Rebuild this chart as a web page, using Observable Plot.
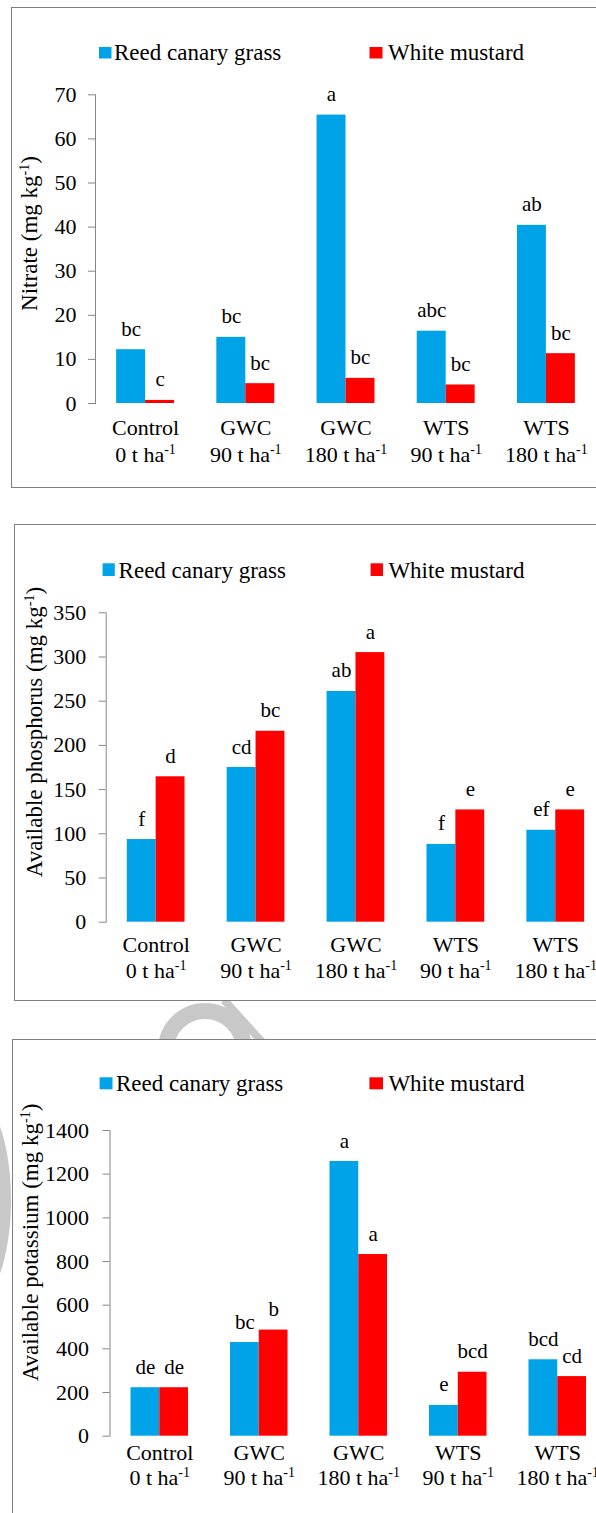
<!DOCTYPE html>
<html>
<head>
<meta charset="utf-8">
<script src="https://cdn.jsdelivr.net/npm/d3@7"></script>
<script src="https://cdn.jsdelivr.net/npm/@observablehq/plot@0.6"></script>
<style>
html,body{margin:0;padding:0;background:#fff;}
body{width:596px;height:1513px;position:relative;overflow:hidden;}
#wm{position:absolute;left:0;top:0;z-index:0;}
.box{position:absolute;border:1px solid #7f7f7f;box-sizing:border-box;background:#fff;z-index:1;}
.panel{position:absolute;left:0;width:610px;z-index:2;}
.panel svg{display:block;overflow:visible;max-width:none;}
</style>
</head>
<body>
<svg id="wm" width="596" height="1513">
  <g fill="none" stroke="#c8c8c8">
    <circle cx="205" cy="1050" r="39" stroke-width="16"></circle>
    <line x1="224" y1="1000" x2="262" y2="1042" stroke-width="8"></line>
  </g>
  <ellipse cx="-30" cy="1200" rx="41" ry="108" fill="#c8c8c8"></ellipse>
</svg>
<div class="box" style="left:11px;top:7px;width:640px;height:481px"></div>
<div class="box" style="left:14px;top:524px;width:640px;height:477px"></div>
<div class="box" style="left:12px;top:1039px;width:640px;height:520px"></div>
<div class="panel" id="p1" style="top:0px"></div>
<div class="panel" id="p2" style="top:500px"></div>
<div class="panel" id="p3" style="top:1010px"></div>
<script>
// ---------- data ----------
const treatmentNames = ["Control", "GWC", "GWC", "WTS", "WTS"];
const doses = ["0", "90", "180", "90", "180"];
const series = ["Reed canary grass", "White mustard"];
const seriesColors = ["#00A2E8", "#FF0000"];

const nitrateRCG = [12.2, 15.0, 65.4, 16.4, 40.4];
const nitrateWM = [0.7, 4.5, 5.7, 4.2, 11.3];
const nitrateLettersRCG = ["bc", "bc", "a", "abc", "ab"];
const nitrateLettersWM = ["c", "bc", "bc", "bc", "bc"];
const nitrateTicks = [0, 10, 20, 30, 40, 50, 60, 70];

const phosphorusRCG = [93.5, 175, 261, 88, 104];
const phosphorusWM = [164.5, 216, 305, 127, 127];
const phosphorusLettersRCG = ["f", "cd", "ab", "f", "ef"];
const phosphorusLettersWM = ["d", "bc", "a", "e", "e"];
const phosphorusTicks = [0, 50, 100, 150, 200, 250, 300, 350];

const potassiumRCG = [222, 429, 1258, 141, 350];
const potassiumWM = [222, 486, 832, 293, 273];
const potassiumLettersRCG = ["de", "bc", "a", "e", "bcd"];
const potassiumLettersWM = ["de", "b", "a", "bcd", "cd"];
const potassiumTicks = [0, 200, 400, 600, 800, 1000, 1200, 1400];

// ---------- helpers ----------
const FONT = '"Liberation Serif", "Times New Roman", serif';
const NS = "http://www.w3.org/2000/svg";
const treatmentKeys = treatmentNames.map((n, i) => n + " " + doses[i]);
const treatRows = treatmentKeys.map((k, i) => ({treat: k, name: treatmentNames[i], dose: doses[i] + " t ha"}));

function addSup(parent, txt, size, dy) {
  const s = document.createElementNS(NS, "tspan");
  s.setAttribute("font-size", size);
  s.setAttribute("dy", dy);
  s.textContent = txt;
  parent.appendChild(s);
  return s;
}

function makePanel(cfg) {
  const rows = [];
  treatmentKeys.forEach((t, i) => {
    rows.push({treat: t, series: series[0], value: cfg.a[i], letter: cfg.la[i]});
    rows.push({treat: t, series: series[1], value: cfg.b[i], letter: cfg.lb[i]});
  });
  const W = 610;
  const svg = Plot.plot({
    width: W,
    height: cfg.height,
    marginLeft: cfg.left,
    marginRight: W - cfg.right,
    marginTop: cfg.top,
    marginBottom: cfg.bottom,
    style: {fontFamily: FONT, fontSize: "22px", background: "transparent", overflow: "visible", color: "black", maxWidth: "none"},
    fx: {domain: treatmentKeys, paddingInner: 0, paddingOuter: 0, round: false, axis: null, label: null},
    x: {domain: series, paddingInner: 0, paddingOuter: 0.73, round: false, axis: null, label: null},
    y: {domain: [0, cfg.ticks[cfg.ticks.length - 1]], axis: null, label: null},
    color: {domain: series, range: seriesColors},
    marks: [
      Plot.barY(rows, {fx: "treat", x: "series", y: "value", fill: "series"}),
      Plot.text(rows, {fx: "treat", x: "series", y: "value", text: "letter", lineAnchor: "bottom", dy: -14,
        fontSize: 21, fontFamily: FONT, fill: "black"}),
      Plot.axisY({ticks: cfg.ticks, tickSize: 7, tickPadding: cfg.ypad, tickFormat: d => String(d),
        stroke: "#868686", fill: "black", fontSize: 22, fontFamily: FONT, label: null}),
      Plot.frame({anchor: "left", facetAnchor: "left", stroke: "#868686"}),
      Plot.text(treatRows, {fx: "treat", text: "name", frameAnchor: "bottom", lineAnchor: "bottom", dy: cfg.x1,
        fontSize: 22, fontFamily: FONT, fill: "black"}),
      Plot.text(treatRows, {fx: "treat", text: "dose", frameAnchor: "bottom", lineAnchor: "bottom", dy: cfg.x2,
        fontSize: 22, fontFamily: FONT, fill: "black"})
    ]
  });
  // superscripts in tick labels
  svg.querySelectorAll("text, tspan").forEach(el => {
    if (el.children.length === 0 && /t ha$/.test(el.textContent)) {
      addSup(el, "-1", "14px", "-8");
    }
  });
  const g = d3.select(svg).append("g").attr("font-family", FONT).attr("text-anchor", "start");
  // legend
  cfg.legend.forEach((it, i) => {
    g.append("rect").attr("x", it.sx).attr("y", it.sy).attr("width", it.sw).attr("height", it.sh).attr("fill", seriesColors[i]);
    g.append("text").attr("x", it.tx).attr("y", it.ty).attr("text-anchor", "start")
      .attr("font-size", "23px").attr("fill", "black").text(series[i]);
  });
  // y title
  const t = g.append("text")
    .attr("transform", `translate(${cfg.titleX},${cfg.titleY}) rotate(-90)`)
    .attr("text-anchor", "middle")
    .attr("dy", "0.35em")
    .attr("font-size", "23px")
    .attr("fill", "black");
  t.append("tspan").text(cfg.title + " (mg kg");
  t.append("tspan").attr("font-size", "14px").attr("dy", "-8").text("-1");
  t.append("tspan").attr("dy", "8").text(")");
  document.getElementById(cfg.id).appendChild(svg);
}

makePanel({
  id: "p1", height: 495, left: 95, right: 596, top: 94.3, bottom: 92,
  a: nitrateRCG, b: nitrateWM, la: nitrateLettersRCG, lb: nitrateLettersWM, ticks: nitrateTicks,
  ypad: 12, x1: 31, x2: 58,
  title: "Nitrate", titleX: 28.5, titleY: 233.5,
  legend: [
    {sx: 99, sy: 47, sw: 12.5, sh: 11.5, tx: 114, ty: 60},
    {sx: 369.5, sy: 47, sw: 13, sh: 11.5, tx: 388, ty: 60}
  ]
});
makePanel({
  id: "p2", height: 510, left: 105.7, right: 605.2, top: 112.3, bottom: 88.3,
  a: phosphorusRCG, b: phosphorusWM, la: phosphorusLettersRCG, lb: phosphorusLettersWM, ticks: phosphorusTicks,
  ypad: 13, x1: 30, x2: 55.3,
  title: "Available phosphorus", titleX: 34.2, titleY: 232,
  legend: [
    {sx: 102.6, sy: 63.3, sw: 12.2, sh: 12.7, tx: 118.6, ty: 78.3},
    {sx: 370.6, sy: 63.3, sw: 12.4, sh: 12.7, tx: 388.4, ty: 78.3}
  ]
});
makePanel({
  id: "p3", height: 503, left: 109.5, right: 607, top: 120, bottom: 77.3,
  a: potassiumRCG, b: potassiumWM, la: potassiumLettersRCG, lb: potassiumLettersWM, ticks: potassiumTicks,
  ypad: 14, x1: 23.6, x2: 48.6,
  title: "Available potassium", titleX: 30.4, titleY: 232.5,
  legend: [
    {sx: 99.6, sy: 67.3, sw: 12.9, sh: 12, tx: 116, ty: 80.7},
    {sx: 369.4, sy: 67.3, sw: 13.6, sh: 12, tx: 388.4, ty: 80.7}
  ]
});
</script>
</body>
</html>
